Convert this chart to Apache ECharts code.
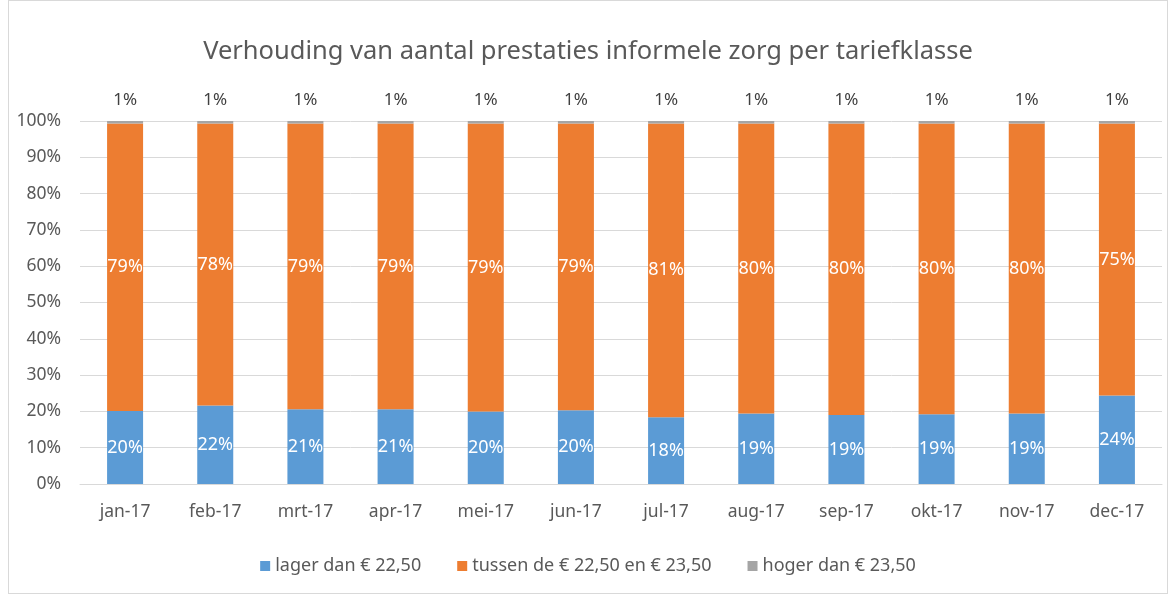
<!DOCTYPE html>
<html>
<head>
<meta charset="utf-8">
<script src="https://cdn.jsdelivr.net/npm/echarts@6/dist/echarts.min.js"></script>
<style>
  html, body { margin:0; padding:0; background:#fff; }
  #chart { position:absolute; left:8px; top:0; width:1160px; height:594px; border:1px solid #d9d9d9; box-sizing:border-box; }
</style>
</head>
<body>
<div id="chart"></div>
<script>
// maanden
var maanden = ['jan-17','feb-17','mrt-17','apr-17','mei-17','jun-17','jul-17','aug-17','sep-17','okt-17','nov-17','dec-17'];
// aandelen in procenten
var lager  = [20.1, 21.6, 20.6, 20.6, 20.0, 20.3, 18.4, 19.4, 19.0, 19.2, 19.4, 24.4];
var tussen = [79.2, 77.7, 78.7, 78.7, 79.3, 79.0, 80.9, 79.9, 80.3, 80.1, 79.9, 74.9];
var hoger  = [0.7, 0.7, 0.7, 0.7, 0.7, 0.7, 0.7, 0.7, 0.7, 0.7, 0.7, 0.7];
var yTicks = [0,10,20,30,40,50,60,70,80,90,100];

var font = 'Noto Sans';
function pct(p){ return Math.round(p.value) + '%'; }

var chart = echarts.init(document.getElementById('chart'));
var option = {
    animation: false,
    textStyle: { fontFamily: font },
    title: {
        text: 'Verhouding van aantal prestaties informele zorg per tariefklasse',
        left: 'center',
        top: 33,
        textStyle: { fontFamily: font, fontSize: 25.5, fontWeight: 'normal', color: '#595959' }
    },
    legend: {
        bottom: 13,
        left: 'center',
        itemWidth: 10,
        itemHeight: 10,
        itemGap: 36,
        icon: 'rect',
        textStyle: { fontFamily: font, fontSize: 18, color: '#595959' },
        data: ['lager dan € 22,50', 'tussen de € 22,50 en € 23,50', 'hoger dan € 23,50']
    },
    grid: { left: 71, right: 5, top: 120, bottom: 109 },
    xAxis: {
        type: 'category',
        data: maanden,
        axisLine: { lineStyle: { color: '#d9d9d9', width: 1 } },
        axisTick: { show: false },
        axisLabel: { color: '#595959', fontSize: 17.5, margin: 19, fontFamily: font }
    },
    yAxis: {
        type: 'value',
        min: yTicks[0],
        max: yTicks[yTicks.length - 1],
        interval: 10,
        axisLine: { show: false },
        axisTick: { show: false },
        splitLine: { lineStyle: { color: '#d9d9d9', width: 1 } },
        axisLabel: { color: '#595959', fontSize: 17.5, margin: 19, fontFamily: font, formatter: '{value}%' }
    },
    series: [
        {
            name: 'lager dan € 22,50', type: 'bar', stack: 'tot', barWidth: 36,
            itemStyle: { color: '#5B9BD5' },
            label: { show: true, position: 'inside', color: '#fff', fontSize: 18, fontFamily: font, formatter: pct },
            data: lager
        },
        {
            name: 'tussen de € 22,50 en € 23,50', type: 'bar', stack: 'tot',
            itemStyle: { color: '#ED7D31' },
            label: { show: true, position: 'inside', color: '#fff', fontSize: 18, fontFamily: font, formatter: pct },
            data: tussen
        },
        {
            name: 'hoger dan € 23,50', type: 'bar', stack: 'tot',
            itemStyle: { color: '#A5A5A5' },
            label: { show: true, position: 'top', distance: 12, color: '#404040', fontSize: 17, fontFamily: font, formatter: pct },
            data: hoger
        }
    ]
};
chart.setOption(option);
</script>
</body>
</html>
